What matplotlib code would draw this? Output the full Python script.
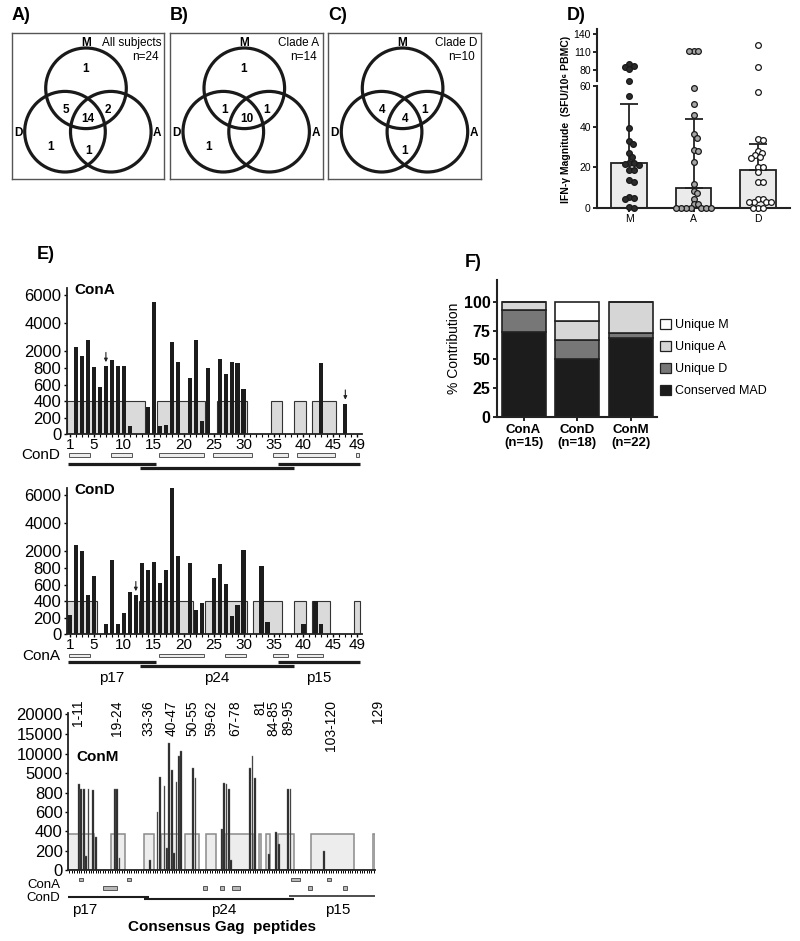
import numpy as np
import matplotlib
matplotlib.use("Agg")
import matplotlib.pyplot as plt
from matplotlib.patches import Rectangle, Circle, Patch
from matplotlib.transforms import blended_transform_factory

plt.rcParams['font.family'] = ['Liberation Sans', 'DejaVu Sans']

# ---------------- data ----------------
# Venn diagrams (A-C)
venn_letters = ['A)', 'B)', 'C)']
venn_titles = ['All subjects', 'Clade A', 'Clade D']
venn_n = ['n=24', 'n=14', 'n=10']
venn_counts = [
    {'M': 1, 'MD': 5, 'MDA': 14, 'MA': 2, 'D': 1, 'DA': 1},
    {'M': 1, 'MD': 1, 'MDA': 10, 'MA': 1, 'D': 1},
    {'MD': 4, 'MDA': 4, 'MA': 1, 'DA': 1},
]

# Panel D
d_groups = ['M', 'A', 'D']
d_bar = [22.3, 10.0, 18.7]
d_err_top = [51.2, 43.6, 31.6]
m_vals = [90, 87, 85.5, 81, 62.6, 55.2, 39.2, 33.1, 31.6, 27.2, 25.2, 22.3, 22.0,
          21.5, 21.1, 18.7, 18.7, 13.8, 12.9, 5.6, 5.1, 4.3, 0.3, 0.2]
a_vals = [112, 111, 111.5, 58.9, 51, 45.7, 36.2, 34.6, 28.5, 28.2, 22.8, 11.8, 8.5,
          7.2, 4.3, 1.8, 1.8, 0, 0, 0, 0, 0, 0, 0]
dd_vals = [121.7, 84.5, 56.9, 33.8, 33.6, 28, 27, 26, 25, 24.6, 20.3, 20.3, 17.5,
           12.8, 12.8, 4.6, 4.6, 3.1, 3.1, 3.1, 3.1, 0.2, 0.2, 0.2]

# Panel E - ConA
conA_pep = [2, 3, 4, 5, 6, 7, 8, 9, 10, 11, 14, 15, 16, 17, 18, 19, 21, 22, 23, 24,
            26, 27, 28, 29, 30, 43, 47]
conA_val = [2300, 1700, 2800, 870, 580, 950, 1400, 1000, 940, 100, 330, 5500, 95, 110,
            2650, 1250, 680, 2800, 160, 840, 1450, 730, 1250, 1170, 550, 1200, 370]
conA_boxes = [(1, 13), (16, 23), (26, 30), (35, 36), (39, 40), (42, 45)]
conA_arrows = [7, 47]
conA_strip = [(1, 4), (8, 11), (16, 23), (25, 31), (35, 37), (39, 45), (49, 49)]  # ConD rows

# Panel E - ConD
conD_pep = [1, 2, 3, 4, 5, 7, 8, 9, 10, 11, 12, 13, 14, 15, 16, 17, 18, 19, 21, 22,
            23, 25, 26, 27, 28, 29, 30, 33, 34, 40, 42, 43]
conD_val = [230, 2450, 2050, 480, 710, 120, 1350, 125, 250, 510, 470, 1200, 785, 1250,
            615, 785, 6500, 1650, 1150, 295, 375, 680, 1100, 610, 215, 357, 2080, 950,
            140, 120, 405, 122]
conD_boxes = [(1, 5), (13, 21), (24, 30), (32, 36), (39, 40), (42, 44), (49, 49)]
conD_arrows = [12]
conD_strip = [(1, 4), (16, 23), (27, 30), (35, 37), (39, 43)]  # ConA rows

proteins = ['p17', 'p24', 'p15']
prot_AD = [(1, 15), (13, 38), (36, 49)]

# Panel E - ConM
conM_pep = [5, 6, 7, 8, 9, 11, 12, 20, 21, 22, 35, 38, 39, 41, 42, 43, 44, 45, 46, 47,
            48, 53, 54, 65, 66, 67, 68, 69, 77, 78, 79, 85, 88, 89, 93, 94, 108]
conM_val = [2300, 940, 940, 150, 1090, 830, 340, 1090, 940, 120, 100, 600, 4100, 1800,
            230, 12600, 5800, 175, 2700, 9400, 10700, 6300, 3900, 420, 2600, 2300, 940,
            100, 6300, 9400, 3900, 170, 390, 270, 940, 1090, 200]
conM_boxes = [(1, 11), (19, 24), (33, 36), (40, 47), (50, 55), (59, 62), (67, 78),
              (81, 81), (84, 85), (89, 95), (103, 120), (129, 129)]
conM_box_label_at = [4.7, 20.9, 34.1, 44.0, 52.9, 60.5, 70.8, 81.4, 86.9, 92.9, 110.9, 130.6]
conM_stripA = [(6, 6), (26, 26), (95, 97), (110, 110)]
conM_stripD = [(16, 20), (58, 58), (65, 65), (70, 72), (102, 102), (117, 117)]
prot_M = [(1, 34), (33, 95), (94, 129)]
prot_M_label = [7.5, 66, 113.7]

# Panel F
f_cats = ['ConA\n(n=15)', 'ConD\n(n=18)', 'ConM\n(n=22)']
f_conserved = [73.3, 50.0, 68.2]
f_unique_d = [20.0, 16.7, 4.5]
f_unique_a = [6.7, 16.7, 27.3]
f_unique_m = [0.0, 16.7, 0.0]

# ---------------- helpers ----------------
W, H = 800, 941
fig = plt.figure(figsize=(W / 100, H / 100), dpi=100)
DARK = '#1c1c1c'


def px_axes(x0, y0, x1, y1):
    return fig.add_axes([x0 / W, 1 - y1 / H, (x1 - x0) / W, (y1 - y0) / H])


def ftext(x, y, s, **kw):
    return fig.text(x / W, 1 - y / H, s, **kw)


def break_fns(b, k, g):
    def fwd(v):
        v = np.asarray(v, float)
        return np.where(v <= b, v, b + g + (v - b) * k)

    def inv(t):
        t = np.asarray(t, float)
        return np.where(t <= b, t, np.where(t < b + g, b, b + (t - b - g) / k))
    return fwd, inv


def style_spines(ax, lw=1.3):
    for s in ['top', 'right']:
        ax.spines[s].set_visible(False)
    for s in ['left', 'bottom']:
        ax.spines[s].set_linewidth(lw)
        ax.spines[s].set_color('#222222')


# ---------------- Venn panels ----------------
region_xy = {'M': (73.5, 36), 'MD': (54.3, 76.7), 'MDA': (76.6, 86), 'MA': (96.6, 76.7),
             'D': (39, 113.4), 'DA': (76.6, 117.4), 'A': (116, 113.4)}
venn_x0 = [11.7, 170, 328.3]
BW, BH = 152.6, 145.7
for i in range(3):
    x0 = venn_x0[i]
    ax = px_axes(x0, 33.3, x0 + BW, 33.3 + BH)
    ax.set_xlim(0, BW)
    ax.set_ylim(BH, 0)
    ax.set_xticks([])
    ax.set_yticks([])
    for s in ax.spines.values():
        s.set_linewidth(1.0)
        s.set_color('#555555')
    for c in [(74.3, 55.0), (53.3, 98.4), (99.1, 98.4)]:
        ax.add_patch(Circle(c, 40.3, fill=False, lw=2.3, ec='#1a1a1a'))
    ax.text(74.3, 10, 'M', fontsize=8.5, fontweight='bold', ha='center', va='center')
    ax.text(149.3, 10, venn_titles[i], fontsize=8.5, ha='right', va='center')
    ax.text(133.5, 24, venn_n[i], fontsize=8.5, ha='center', va='center')
    ax.text(6.6, 100, 'D', fontsize=8.5, fontweight='bold', ha='center', va='center')
    ax.text(145.6, 100, 'A', fontsize=8.5, fontweight='bold', ha='center', va='center')
    for reg, cnt in venn_counts[i].items():
        x, y = region_xy[reg]
        ax.text(x, y, str(cnt), fontsize=8.5, fontweight='bold', ha='center', va='center')
    ftext(x0, 16, venn_letters[i], fontsize=13, fontweight='bold', ha='left', va='center')

# ---------------- Panel D ----------------
lower = px_axes(597, 86, 790, 208)
upper = px_axes(597, 29, 790, 81)
lower.set_xlim(-0.5, 2.5)
upper.set_xlim(-0.5, 2.5)
lower.set_ylim(0, 60)
upper.set_ylim(61.7, 148.3)
xs = np.arange(3)
lower.bar(xs, d_bar, width=0.55, facecolor='#ebebeb', edgecolor='#222222', lw=1.3, zorder=1)
lower.errorbar(xs, d_bar, yerr=[np.zeros(3), np.array(d_err_top) - np.array(d_bar)],
               fmt='none', ecolor='#222222', elinewidth=1.3, capsize=6.5, capthick=1.3,
               zorder=2)


def ypix_D(v):
    return np.where(v > 65, 70 - (v - 80) * 0.6, 208 - v * 2.033)


def swarm(vals, d=4.6):
    vals = np.asarray(vals, float)
    ys = ypix_D(vals)
    offs = np.zeros(len(vals))
    placed = []
    for i in np.argsort(-vals):
        cands = [0.0]
        for k in range(1, 40):
            cands += [k * 0.5, -k * 0.5]
        for c in cands:
            if all((c - px) ** 2 + (ys[i] - py) ** 2 >= d * d for px, py in placed):
                offs[i] = c
                placed.append((c, ys[i]))
                break
    return offs / 64.5


group_vals = [m_vals, a_vals, dd_vals]
face = ['#2b2b2b', '#a6a6a6', 'white']
for gi, vals in enumerate(group_vals):
    vals = np.asarray(vals, float)
    xo = gi + swarm(vals)
    hi = vals > 65
    lower.scatter(xo[~hi], vals[~hi], s=17, facecolor=face[gi], edgecolor='#1a1a1a',
                  linewidth=0.9, zorder=3, clip_on=False)
    upper.scatter(xo[hi], vals[hi], s=17, facecolor=face[gi], edgecolor='#1a1a1a',
                  linewidth=0.9, zorder=3, clip_on=False)
style_spines(lower, 1.5)
style_spines(upper, 1.5)
upper.spines['bottom'].set_visible(False)
upper.set_xticks([])
lower.set_xticks(xs)
lower.set_xticklabels(d_groups)
lower.set_yticks([0, 20, 40, 60])
upper.set_yticks([80, 110, 140])
for a in (lower, upper):
    a.tick_params(labelsize=7.5, length=3, width=1.2, pad=1.5)
    a.set_facecolor('none')
ftext(566, 119, 'IFN-γ Magnitude  (SFU/10⁶ PBMC)', rotation=90, fontsize=7.5,
      fontweight='bold', ha='center', va='center')
ftext(567, 16, 'D)', fontsize=13, fontweight='bold', ha='left', va='center')

# ---------------- Panel E ----------------
ftext(36.7, 255, 'E)', fontsize=13, fontweight='bold', ha='left', va='center')


def pep_panel(y_top, y_zero, peps, vals, boxes, name, arrows):
    ax = px_axes(66.7, y_top, 361.5, y_zero)
    ax.set_yscale('function', functions=break_fns(800, 0.172, 0))
    ax.set_xlim(0.45, 49.7)
    ax.set_ylim(0, 6480)
    for s, e in boxes:
        ax.add_patch(Rectangle((s - 0.5, 0), e - s + 1, 400, facecolor='#dadada',
                               edgecolor='#333333', lw=0.8, zorder=1))
    ax.bar(peps, vals, width=0.7, color=DARK, zorder=2)
    for p in arrows:
        v = vals[peps.index(p)]
        ax.annotate('', xy=(p, v), xytext=(0, 10), textcoords='offset points',
                    arrowprops=dict(arrowstyle='-|>', lw=0.8, color='#222222',
                                    shrinkA=0, shrinkB=3, mutation_scale=5))
    style_spines(ax, 1.3)
    ax.set_yticks([0, 200, 400, 600, 800, 2000, 4000, 6000])
    ax.set_yticklabels(['0', '200', '400', '600', '800', '2000', '4000', '6000'])
    ax.set_xticks([1, 5, 10, 15, 20, 25, 30, 35, 40, 45, 49])
    ax.set_xticks(np.arange(1, 50), minor=True)
    ax.tick_params(axis='y', labelsize=12, length=2.5, width=1, pad=1.5)
    ax.tick_params(axis='x', labelsize=11, length=2.5, width=1, pad=0.5)
    ax.tick_params(axis='x', which='minor', length=2.5, width=0.8)
    ax.yaxis.set_minor_locator(matplotlib.ticker.NullLocator())
    ax.text(0.025, 0.985, name, transform=ax.transAxes, fontsize=11, fontweight='bold',
            ha='left', va='center')
    return ax


def strip(x0, x1, y0, y1, xlim):
    ax = px_axes(x0, y0, x1, y1)
    ax.set_xlim(*xlim)
    ax.set_ylim(y1, y0)
    ax.axis('off')
    return ax


axA = pep_panel(288, 434.3, conA_pep, conA_val, conA_boxes, 'ConA', conA_arrows)
sA = strip(66.7, 361.5, 448, 472, (0.45, 49.7))
for s, e in conA_strip:
    sA.add_patch(Rectangle((s - 0.15, 453.2), e - s + 0.5, 3.7, facecolor='#ececec',
                           edgecolor='#555555', lw=0.7, clip_on=False))
for (s, e), yy in zip(prot_AD, [464, 468.3, 464]):
    sA.plot([s - 0.25, e + 0.45], [yy, yy], lw=2.3, color=DARK, solid_capstyle='butt',
            clip_on=False)
ftext(60, 455, 'ConD', fontsize=11, ha='right', va='center')

axD = pep_panel(488, 634, conD_pep, conD_val, conD_boxes, 'ConD', conD_arrows)
sD = strip(66.7, 361.5, 648, 672, (0.45, 49.7))
for s, e in conD_strip:
    sD.add_patch(Rectangle((s - 0.15, 653.5), e - s + 0.5, 3.7, facecolor='#ececec',
                           edgecolor='#555555', lw=0.7, clip_on=False))
for (s, e), yy, nm in zip(prot_AD, [661.7, 665.7, 661.7], proteins):
    sD.plot([s - 0.25, e + 0.45], [yy, yy], lw=2.3, color=DARK, solid_capstyle='butt',
            clip_on=False)
    sD.text((s + e) / 2, 678, nm, fontsize=11, ha='center', va='center', clip_on=False)
ftext(60, 655.5, 'ConA', fontsize=11, ha='right', va='center')

# ConM
axM = px_axes(68.3, 713.3, 375, 870)
axM.set_yscale('function', functions=break_fns(800, 0.0408, 30))
axM.set_xlim(0.5, 129.5)
axM.set_ylim(0, 20212)
for s, e in conM_boxes:
    axM.add_patch(Rectangle((s - 0.5, 0), e - s + 1, 375, facecolor='#ededed',
                            edgecolor='#8a8a8a', lw=1.1, zorder=1))
axM.bar(conM_pep, conM_val, width=0.75, color='#1e1e1e', edgecolor='#7a7a7a', lw=0.3,
        zorder=2)
style_spines(axM, 1.3)
axM.set_yticks([0, 200, 400, 600, 800, 5000, 10000, 15000, 20000])
axM.set_yticklabels(['0', '200', '400', '600', '800', '5000', '10000', '15000', '20000'])
axM.yaxis.set_minor_locator(matplotlib.ticker.NullLocator())
axM.set_xticks([])
axM.set_xticks(np.arange(1, 130), minor=True)
axM.tick_params(axis='y', labelsize=12, length=2.5, width=1, pad=1.5)
axM.tick_params(axis='x', which='minor', length=2.5, width=0.7)
axM.text(0.025, 0.72, 'ConM', transform=axM.transAxes, fontsize=11, fontweight='bold',
         ha='left', va='center')
tr = blended_transform_factory(axM.transData, fig.transFigure)
for (s, e), lx in zip(conM_boxes, conM_box_label_at):
    lab = f'{s}-{e}' if s != e else f'{s}'
    axM.text(lx, 1 - 700 / H, lab, transform=tr, rotation=90, fontsize=10,
             ha='center', va='top', clip_on=False)

sM = strip(68.3, 375, 874, 902, (0.5, 129.5))
for s, e in conM_stripA:
    sM.add_patch(Rectangle((s - 0.8, 877.6), e - s + 1.6, 3.4, facecolor='#b8b8b8',
                           edgecolor='#555555', lw=0.7, clip_on=False))
for s, e in conM_stripD:
    sM.add_patch(Rectangle((s - 0.8, 886.3), e - s + 1.6, 4.0, facecolor='#b8b8b8',
                           edgecolor='#555555', lw=0.7, clip_on=False))
for (s, e), yy, lw, nm, lx in zip(prot_M, [896.7, 899.3, 895.7], [1.5, 1.5, 1.1],
                                  proteins, prot_M_label):
    sM.plot([s - 0.5, e + 0.5], [yy, yy], lw=lw, color=DARK, solid_capstyle='butt',
            clip_on=False)
    sM.text(lx, 910, nm, fontsize=11, ha='center', va='center', clip_on=False)
ftext(60, 885, 'ConA', fontsize=9.5, ha='right', va='center')
ftext(60, 898, 'ConD', fontsize=9.5, ha='right', va='center')
ftext(221.7, 927, 'Consensus Gag  peptides', fontsize=11, fontweight='bold',
      ha='center', va='center')

# ---------------- Panel F ----------------
axF = px_axes(496.7, 280, 656.7, 416.7)
axF.set_xlim(-0.5, 2.48)
axF.set_ylim(0, 119)
fx = np.arange(3)
bottom = np.zeros(3)
layers = [(f_conserved, '#1c1c1c', 'Conserved MAD'), (f_unique_d, '#777777', 'Unique D'),
          (f_unique_a, '#d6d6d6', 'Unique A'), (f_unique_m, 'white', 'Unique M')]
for vals, col, lab in layers:
    vals = np.asarray(vals)
    axF.bar(fx, vals, width=0.82, bottom=bottom, facecolor=col, edgecolor='#222222',
            lw=1.2, zorder=2)
    bottom = bottom + vals
style_spines(axF, 1.5)
axF.set_yticks([0, 25, 50, 75, 100])
axF.set_xticks(fx)
axF.set_xticklabels(f_cats, fontweight='bold', fontsize=9.5, linespacing=1.15)
axF.tick_params(axis='y', labelsize=11.5, length=3, width=1.2, pad=1.5)
axF.tick_params(axis='x', length=3, width=1.2, pad=2)
for t in axF.get_yticklabels():
    t.set_fontweight('bold')
axF.set_ylabel('% Contribution', fontsize=10, labelpad=2)
handles = [Patch(facecolor=c, edgecolor='#222222', lw=0.9, label=l)
           for _, c, l in layers[::-1]]
fig.legend(handles=handles, loc='upper left', bbox_to_anchor=(660 / W, 1 - 319 / H),
           frameon=False, fontsize=9, handlelength=0.85, handleheight=0.85,
           handletextpad=0.35, labelspacing=0.78, borderaxespad=0, borderpad=0)
ftext(465, 263, 'F)', fontsize=13, fontweight='bold', ha='left', va='center')

fig.savefig('out.png', dpi=100)
